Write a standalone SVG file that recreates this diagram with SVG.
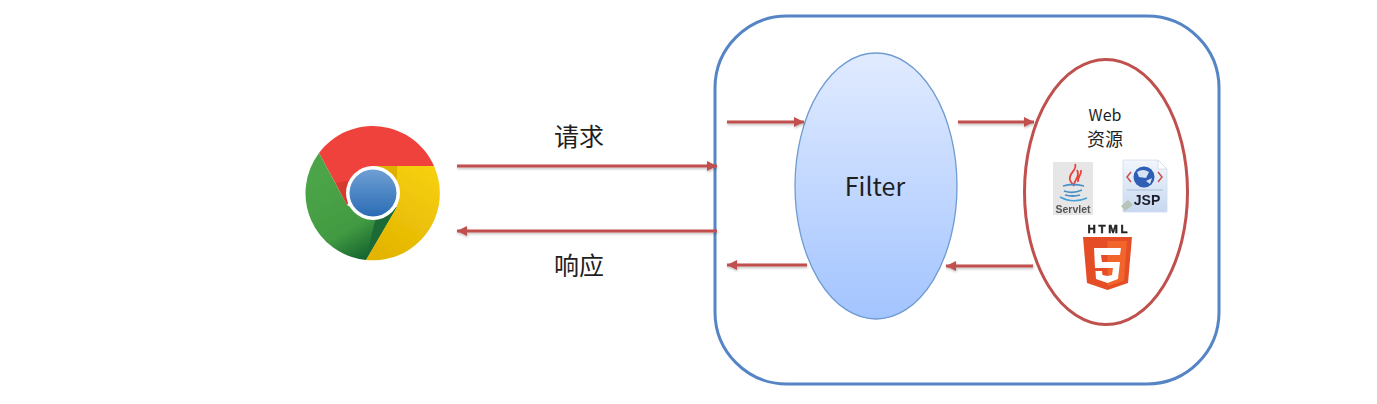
<svg xmlns="http://www.w3.org/2000/svg" width="1377" height="404" viewBox="0 0 1377 404">
<style>
.c{fill:none;stroke:#c0504d;stroke-width:3;marker-end:url(#ah)}
.t{font-family:"Noto Sans CJK SC","Noto Sans",sans-serif;fill:#1f1f1f}
</style>
<defs>
<marker id="ah" markerUnits="userSpaceOnUse" markerWidth="12" markerHeight="12" refX="10" refY="5" orient="auto"><path d="M0 0L10 5L0 10Z" fill="#c0504d"/></marker>
<filter id="sh" filterUnits="userSpaceOnUse" x="0" y="0" width="1377" height="404"><feDropShadow dx="0.5" dy="1.5" stdDeviation="1.2" flood-color="#000" flood-opacity="0.25"/></filter>
<filter id="soft" filterUnits="userSpaceOnUse" x="0" y="0" width="1377" height="404"><feGaussianBlur stdDeviation="0.4"/></filter>
<linearGradient id="fg" x1="0" y1="0" x2="0" y2="1"><stop offset="0" stop-color="#e1ebff"/><stop offset="1" stop-color="#a3c4ff"/></linearGradient>
<linearGradient id="blue" x1="0" y1="0" x2="0" y2="1"><stop offset="0" stop-color="#6f9fd4"/><stop offset="1" stop-color="#2a6cb4"/></linearGradient>
<linearGradient id="grn" x1="0.3" y1="0.2" x2="0.7" y2="1"><stop offset="0" stop-color="#4ba446"/><stop offset="0.6" stop-color="#429a42"/><stop offset="1" stop-color="#0f5f2c"/></linearGradient>
<linearGradient id="yel" x1="0.8" y1="0" x2="0.3" y2="1"><stop offset="0" stop-color="#f6d011"/><stop offset="1" stop-color="#e3b400"/></linearGradient>
<linearGradient id="jsp" x1="0" y1="0" x2="0" y2="1"><stop offset="0" stop-color="#f2f6fc"/><stop offset="1" stop-color="#c6d8f0"/></linearGradient>
</defs>

<g id="container"><rect x="715" y="16" width="504" height="368" rx="72" ry="72" fill="#fff" stroke="#5585c5" stroke-width="3"/></g>

<g id="browser" filter="url(#soft)">
<path d="M319 153A67 67 0 0 1 434 166L373 166L347 205Z" fill="#f0423c"/>
<path d="M319 153L347 205L373 220L397 207L366 260A67 67 0 0 1 319 153Z" fill="url(#grn)"/>
<path d="M378 212L397 207L366 260L374 225Z" fill="#1d6b35"/>
<path d="M434 166L373 166L397 207L366 260A67 67 0 0 0 434 166Z" fill="url(#yel)"/>
<path d="M373 166H397L397 180Z" fill="#e0b000"/>
<path d="M336 183L347 205L352 180Z" fill="#d63a32"/>
<circle cx="373" cy="193" r="27" fill="#fff"/>
<circle cx="373" cy="193" r="23.5" fill="url(#blue)"/>
</g>

<g id="filter"><ellipse cx="876" cy="186" rx="81" ry="133" fill="url(#fg)" stroke="#6f9bd0" stroke-width="1.3"/>
<text class="t" x="875" y="196" font-size="25" text-anchor="middle">Filter</text></g>

<g id="web-resources"><ellipse cx="1106" cy="192" rx="81.500" ry="132.500" fill="#fff" stroke="#c0504d" stroke-width="3"/>
<text class="t" x="1105" y="121" font-size="16" text-anchor="middle">Web</text>
<text class="t" x="1105" y="146" font-size="18" text-anchor="middle">资源</text></g>

<g id="servlet" filter="url(#soft)">
<rect x="1053" y="162" width="40" height="53" fill="#e6e6e6"/>
<path d="M1075 164C1078 170 1068 173 1070 180C1071 183 1073 184 1074 186C1073 181 1081 177 1077 170M1081 170C1082 175 1077 177 1078 182" fill="none" stroke="#e8433a" stroke-width="1.800"/>
<path d="M1063 186Q1073 183 1084 186M1064 191Q1073 194 1082 190M1065 195Q1073 197 1080 195" fill="none" stroke="#4a90c8" stroke-width="1.800"/>
<path d="M1060 197Q1073 204 1087 198" fill="none" stroke="#4aa0d8" stroke-width="1.500"/>
<text x="1073" y="213" font-family="Liberation Sans,sans-serif" font-size="10.500" font-weight="700" fill="#555" text-anchor="middle">Servlet</text>
</g>

<g id="jsp-icon" filter="url(#soft)">
<path d="M1123 160H1158L1167 169V212H1123Z" fill="url(#jsp)" stroke="#d0dcec" stroke-width="0.800"/>
<path d="M1158 160V169H1167Z" fill="#fff" stroke="#c8d0dc" stroke-width="0.600"/>
<circle cx="1144" cy="177" r="10.500" fill="#2f5fb5"/>
<path d="M1137 172Q1143 168 1149 172L1146 178L1139 177ZM1146 181L1152 178L1150 184Z" fill="#d5e3f5"/>
<path d="M1131 172L1127 177L1131 182M1158 172L1162 177L1158 182" fill="none" stroke="#c8504d" stroke-width="1.500"/>
<path d="M1127 190H1163" stroke="#9db6d6" stroke-width="0.800"/>
<text x="1147" y="205" font-family="Liberation Sans,sans-serif" font-size="14" font-weight="700" fill="#1e1e2a" text-anchor="middle">JSP</text>
<path d="M1121 206L1128 200L1133 205L1125 211Z" fill="#b8c4b8"/>
</g>

<g id="html5" filter="url(#soft)">
<text x="1107.500" y="233" font-family="Liberation Sans,sans-serif" font-size="11.500" font-weight="700" stroke="#222" stroke-width="0.500" fill="#222" text-anchor="middle" textLength="40">HTML</text>
<path d="M1083 237H1132L1128 283L1107.500 290L1087 283Z" fill="#e44d26"/>
<path d="M1107.500 241H1127L1124 281L1107.500 286Z" fill="#f16529"/>
<path d="M1094 248H1121L1120 255H1101L1102 262H1120L1118 279L1107.500 283L1096 279L1095.500 271H1102L1102.500 275L1107.500 276L1112 275L1113 268H1095Z" fill="#fff"/>
</g>

<g id="connectors" filter="url(#sh)">
<path class="c" d="M457 166H717"/>
<path class="c" d="M717 231H457"/>
<path class="c" d="M727 122H804"/>
<path class="c" d="M807 265H727"/>
<path class="c" d="M958 122H1034"/>
<path class="c" d="M1033 266H946"/>
</g>

<g id="labels">
<text class="t" x="579" y="146" font-size="25" text-anchor="middle">请求</text>
<text class="t" x="579" y="275" font-size="25" text-anchor="middle">响应</text>
</g>
</svg>
